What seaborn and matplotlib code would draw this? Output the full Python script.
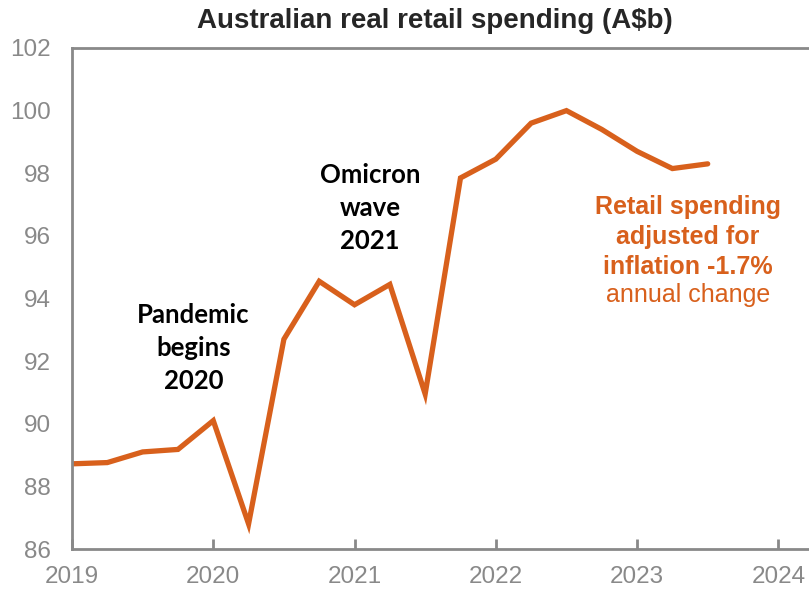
import matplotlib
matplotlib.use("Agg")
import matplotlib.pyplot as plt
import seaborn as sns
import pandas as pd

quarters = [2019.0, 2019.25, 2019.5, 2019.75, 2020.0, 2020.25, 2020.5, 2020.75,
            2021.0, 2021.25, 2021.5, 2021.75, 2022.0, 2022.25, 2022.5, 2022.75,
            2023.0, 2023.25, 2023.5]
spending = [88.72, 88.76, 89.1, 89.18, 90.1, 86.8, 92.7, 94.55,
            93.8, 94.45, 90.95, 97.85, 98.45, 99.6, 100.0, 99.4,
            98.7, 98.15, 98.3]
year_ticks = [2019, 2020, 2021, 2022, 2023, 2024]
y_ticks = [86, 88, 90, 92, 94, 96, 98, 100, 102]

df = pd.DataFrame({"quarter": quarters, "spending": spending})

sns.set_theme(style="white")
plt.rcParams["font.family"] = ["Liberation Sans", "DejaVu Sans"]

orange = "#D8601C"
grey = "#898989"

fig = plt.figure(figsize=(8.09, 5.94), dpi=100)
ax = fig.add_axes([72 / 809, 1 - 549 / 594, (808 - 72) / 809, (549 - 48) / 594])

sns.lineplot(data=df, x="quarter", y="spending", ax=ax, color=orange, linewidth=3.8,
             solid_joinstyle="miter")

ax.set_xlim(2019, 2024.21)
ax.set_ylim(86, 102)
ax.set_xticks(year_ticks)
ax.set_xticklabels([str(y) for y in year_ticks])
ax.set_yticks(y_ticks)
ax.set_xlabel("")
ax.set_ylabel("")

for side in ["left", "bottom", "top"]:
    ax.spines[side].set_visible(True)
    ax.spines[side].set_color(grey)
    ax.spines[side].set_linewidth(2)
ax.spines["right"].set_visible(False)

ax.tick_params(axis="x", direction="in", length=7, width=2, color=grey,
               labelcolor=grey, labelsize=17.5, pad=12, bottom=True)
ax.tick_params(axis="y", length=0, labelcolor=grey, labelsize=17.5, pad=15)

fig.suptitle("Australian real retail spending (A$b)", x=435 / 809, y=1 - 21 / 594,
             va="center", fontsize=20, fontweight="bold",
             family=["Liberation Sans Narrow", "Liberation Sans", "DejaVu Sans"])

ann_font = ["Lato", "DejaVu Sans"]
ax.text(2019.86, 92.42, "Pandemic\nbegins\n2020", ha="center", va="center",
        multialignment="center", fontsize=18.5, fontweight="bold", color="black",
        family=ann_font, linespacing=1.45)
ax.text(2021.11, 96.89, "Omicron\nwave\n2021", ha="center", va="center",
        multialignment="center", fontsize=18.5, fontweight="bold", color="black",
        family=ann_font, linespacing=1.45)
ax.text(2023.36, 95.96, "Retail spending\nadjusted for\ninflation -1.7%",
        ha="center", va="center", multialignment="center", fontsize=18,
        fontweight="bold", color=orange, linespacing=1.3)
ax.text(2023.36, 94.11, "annual change", ha="center", va="center",
        fontsize=18, color=orange)

fig.savefig("out.png", dpi=100, facecolor="white")
